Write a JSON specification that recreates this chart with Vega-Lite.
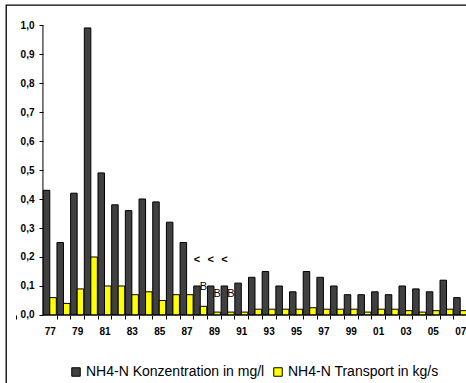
{
  "$schema": "https://vega.github.io/schema/vega-lite/v6.json",
  "autosize": {"type": "none"},
  "padding": {"left": 6, "top": 5, "right": 0, "bottom": 0},
  "width": 462,
  "height": 380,
  "title": {"text": "Langjährige Übersicht", "fontSize": 13, "fontWeight": "bold", "font": "Liberation Sans", "anchor": "middle", "baseline": "alphabetic", "offset": 2, "dx": 9, "color": "black"},
  "datasets": {
    "main": [
      {"year": 1977, "NH4-N Konzentration in mg/l": 0.43, "NH4-N Transport in kg/s": 0.06},
      {"year": 1978, "NH4-N Konzentration in mg/l": 0.25, "NH4-N Transport in kg/s": 0.04},
      {"year": 1979, "NH4-N Konzentration in mg/l": 0.42, "NH4-N Transport in kg/s": 0.09},
      {"year": 1980, "NH4-N Konzentration in mg/l": 0.99, "NH4-N Transport in kg/s": 0.20},
      {"year": 1981, "NH4-N Konzentration in mg/l": 0.49, "NH4-N Transport in kg/s": 0.10},
      {"year": 1982, "NH4-N Konzentration in mg/l": 0.38, "NH4-N Transport in kg/s": 0.10},
      {"year": 1983, "NH4-N Konzentration in mg/l": 0.36, "NH4-N Transport in kg/s": 0.07},
      {"year": 1984, "NH4-N Konzentration in mg/l": 0.40, "NH4-N Transport in kg/s": 0.08},
      {"year": 1985, "NH4-N Konzentration in mg/l": 0.39, "NH4-N Transport in kg/s": 0.05},
      {"year": 1986, "NH4-N Konzentration in mg/l": 0.32, "NH4-N Transport in kg/s": 0.07},
      {"year": 1987, "NH4-N Konzentration in mg/l": 0.25, "NH4-N Transport in kg/s": 0.07},
      {"year": 1988, "NH4-N Konzentration in mg/l": 0.10, "NH4-N Transport in kg/s": 0.03},
      {"year": 1989, "NH4-N Konzentration in mg/l": 0.10, "NH4-N Transport in kg/s": 0.01},
      {"year": 1990, "NH4-N Konzentration in mg/l": 0.10, "NH4-N Transport in kg/s": 0.01},
      {"year": 1991, "NH4-N Konzentration in mg/l": 0.11, "NH4-N Transport in kg/s": 0.01},
      {"year": 1992, "NH4-N Konzentration in mg/l": 0.13, "NH4-N Transport in kg/s": 0.02},
      {"year": 1993, "NH4-N Konzentration in mg/l": 0.15, "NH4-N Transport in kg/s": 0.02},
      {"year": 1994, "NH4-N Konzentration in mg/l": 0.10, "NH4-N Transport in kg/s": 0.02},
      {"year": 1995, "NH4-N Konzentration in mg/l": 0.08, "NH4-N Transport in kg/s": 0.02},
      {"year": 1996, "NH4-N Konzentration in mg/l": 0.15, "NH4-N Transport in kg/s": 0.025},
      {"year": 1997, "NH4-N Konzentration in mg/l": 0.13, "NH4-N Transport in kg/s": 0.02},
      {"year": 1998, "NH4-N Konzentration in mg/l": 0.10, "NH4-N Transport in kg/s": 0.02},
      {"year": 1999, "NH4-N Konzentration in mg/l": 0.07, "NH4-N Transport in kg/s": 0.02},
      {"year": 2000, "NH4-N Konzentration in mg/l": 0.07, "NH4-N Transport in kg/s": 0.01},
      {"year": 2001, "NH4-N Konzentration in mg/l": 0.08, "NH4-N Transport in kg/s": 0.02},
      {"year": 2002, "NH4-N Konzentration in mg/l": 0.07, "NH4-N Transport in kg/s": 0.02},
      {"year": 2003, "NH4-N Konzentration in mg/l": 0.10, "NH4-N Transport in kg/s": 0.015},
      {"year": 2004, "NH4-N Konzentration in mg/l": 0.09, "NH4-N Transport in kg/s": 0.01},
      {"year": 2005, "NH4-N Konzentration in mg/l": 0.08, "NH4-N Transport in kg/s": 0.015},
      {"year": 2006, "NH4-N Konzentration in mg/l": 0.12, "NH4-N Transport in kg/s": 0.02},
      {"year": 2007, "NH4-N Konzentration in mg/l": 0.06, "NH4-N Transport in kg/s": 0.015}
    ],
    "notes": [
      {"year": 1988, "series": "NH4-N Konzentration in mg/l", "label": "<", "value": 0.19},
      {"year": 1989, "series": "NH4-N Konzentration in mg/l", "label": "<", "value": 0.19},
      {"year": 1990, "series": "NH4-N Konzentration in mg/l", "label": "<", "value": 0.19}
    ],
    "bnotes": [
      {"year": 1988, "series": "NH4-N Transport in kg/s", "label": "B", "value": 0.097},
      {"year": 1989, "series": "NH4-N Transport in kg/s", "label": "B", "value": 0.074},
      {"year": 1990, "series": "NH4-N Transport in kg/s", "label": "B", "value": 0.074}
    ],
    "axislines": [
      {"year": 1977, "year2": 2007, "value": 0, "value2": 1}
    ]
  },
  "layer": [
    {
      "data": {"name": "main"},
      "transform": [{"fold": ["NH4-N Konzentration in mg/l", "NH4-N Transport in kg/s"], "as": ["series", "value"]}],
      "mark": {"type": "bar", "stroke": "black", "strokeWidth": 1},
      "encoding": {
        "x": {"field": "year", "type": "ordinal", "title": null,
          "scale": {"domain": [1975, 1976, 1977, 1978, 1979, 1980, 1981, 1982, 1983, 1984, 1985, 1986, 1987, 1988, 1989, 1990, 1991, 1992, 1993, 1994, 1995, 1996, 1997, 1998, 1999, 2000, 2001, 2002, 2003, 2004, 2005, 2006, 2007], "paddingInner": 0, "paddingOuter": 0.385, "align": 0.91},
          "axis": {"orient": "bottom", "offset": -70, "domain": false, "tickBand": "extent", "tickSize": 4, "tickColor": {"condition": {"test": "datum.value < 1977", "value": "transparent"}, "value": "black"}, "labelAngle": 0, "labelPadding": 7, "labelFontSize": 10, "labelFontWeight": "bold", "labelColor": "black", "labelOverlap": false, "labelExpr": "datum.value >= 1977 && datum.value % 2 == 1 ? slice(toString(datum.value), 2) : ''", "grid": false}},
        "xOffset": {"field": "series", "type": "nominal", "sort": ["NH4-N Konzentration in mg/l", "NH4-N Transport in kg/s"], "scale": {"paddingInner": 0, "paddingOuter": 0.05}},
        "y": {"field": "value", "type": "quantitative", "title": null,
          "scale": {"domain": [-0.2414, 1.069], "nice": false, "zero": false},
          "axis": {"orient": "left", "offset": -37, "domain": false, "values": [0, 0.1, 0.2, 0.3, 0.4, 0.5, 0.6, 0.7, 0.8, 0.9, 1.0], "tickSize": 4, "tickColor": "black", "labelPadding": 5, "labelFontSize": 10, "labelFontWeight": "bold", "labelColor": "black", "labelOverlap": false, "labelExpr": "replace(format(datum.value, '.1f'), '.', ',')", "grid": false}},
        "y2": {"datum": 0},
        "color": {"field": "series", "type": "nominal", "title": null,
          "scale": {"domain": ["NH4-N Konzentration in mg/l", "NH4-N Transport in kg/s"], "range": ["#404040", "#ffff00"]},
          "legend": {"orient": "none", "direction": "horizontal", "legendX": 63, "legendY": 360, "padding": 0, "symbolType": "square", "symbolSize": 72, "symbolStrokeColor": "black", "symbolStrokeWidth": 1, "symbolOpacity": 1, "labelFontSize": 14, "labelColor": "black", "labelOffset": 3, "labelLimit": 0, "columnPadding": 6, "title": null}}
      }
    },
    {
      "data": {"name": "notes"},
      "mark": {"type": "text", "fontSize": 11, "fontWeight": "bold", "color": "black", "baseline": "middle"},
      "encoding": {
        "x": {"field": "year", "type": "ordinal", "title": null},
        "xOffset": {"field": "series", "type": "nominal"},
        "y": {"field": "value", "type": "quantitative", "title": null,
          "axis": {"orient": "left", "offset": -37, "domain": false, "values": [0, 0.1, 0.2, 0.3, 0.4, 0.5, 0.6, 0.7, 0.8, 0.9, 1.0], "tickSize": 4, "tickColor": "black", "labelPadding": 5, "labelFontSize": 10, "labelFontWeight": "bold", "labelColor": "black", "labelOverlap": false, "labelExpr": "replace(format(datum.value, '.1f'), '.', ',')", "grid": false}},
        "text": {"field": "label"}
      }
    },
    {
      "data": {"name": "bnotes"},
      "mark": {"type": "text", "fontSize": 11, "color": "black", "baseline": "middle"},
      "encoding": {
        "x": {"field": "year", "type": "ordinal", "title": null},
        "xOffset": {"field": "series", "type": "nominal"},
        "y": {"field": "value", "type": "quantitative", "title": null,
          "axis": {"orient": "left", "offset": -37, "domain": false, "values": [0, 0.1, 0.2, 0.3, 0.4, 0.5, 0.6, 0.7, 0.8, 0.9, 1.0], "tickSize": 4, "tickColor": "black", "labelPadding": 5, "labelFontSize": 10, "labelFontWeight": "bold", "labelColor": "black", "labelOverlap": false, "labelExpr": "replace(format(datum.value, '.1f'), '.', ',')", "grid": false}},
        "text": {"field": "label"}
      }
    },
    {
      "data": {"name": "axislines"},
      "mark": {"type": "rule", "color": "black", "strokeWidth": 1},
      "encoding": {
        "x": {"field": "year", "type": "ordinal", "bandPosition": 0, "title": null},
        "y": {"field": "value", "type": "quantitative", "title": null,
          "axis": {"orient": "left", "offset": -37, "domain": false, "values": [0, 0.1, 0.2, 0.3, 0.4, 0.5, 0.6, 0.7, 0.8, 0.9, 1.0], "tickSize": 4, "tickColor": "black", "labelPadding": 5, "labelFontSize": 10, "labelFontWeight": "bold", "labelColor": "black", "labelOverlap": false, "labelExpr": "replace(format(datum.value, '.1f'), '.', ',')", "grid": false}},
        "y2": {"field": "value2"}
      }
    },
    {
      "data": {"name": "axislines"},
      "mark": {"type": "rule", "color": "black", "strokeWidth": 1},
      "encoding": {
        "x": {"field": "year", "type": "ordinal", "bandPosition": 0, "title": null},
        "x2": {"field": "year2", "bandPosition": 1},
        "y": {"field": "value", "type": "quantitative", "title": null,
          "axis": {"orient": "left", "offset": -37, "domain": false, "values": [0, 0.1, 0.2, 0.3, 0.4, 0.5, 0.6, 0.7, 0.8, 0.9, 1.0], "tickSize": 4, "tickColor": "black", "labelPadding": 5, "labelFontSize": 10, "labelFontWeight": "bold", "labelColor": "black", "labelOverlap": false, "labelExpr": "replace(format(datum.value, '.1f'), '.', ',')", "grid": false}}
      }
    }
  ],
  "config": {
    "font": "Liberation Sans",
    "view": {"stroke": "black", "strokeWidth": 1.3},
    "axis": {"grid": false}
  }
}
